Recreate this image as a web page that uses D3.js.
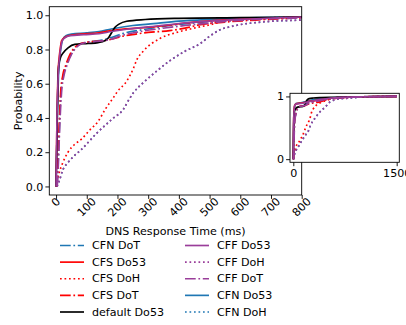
<!DOCTYPE html>
<html>
<head>
<meta charset="utf-8">
<script src="https://cdn.jsdelivr.net/npm/d3@7"></script>
<style>
  body { margin: 0; background: #fff; }
  text { font-family: "DejaVu Sans", sans-serif; fill: #000; }
</style>
</head>
<body>
<svg id="chart" width="406" height="325"></svg>
<script>
// CDF points: [response time (ms), probability]
const cfnDoT = [[3,0],[7,0.15],[11,0.35],[16,0.55],[24,0.65],[34,0.71],[48,0.77],[62,0.81],[82,0.835],[110,0.845],[150,0.855],[180,0.87],[220,0.895],[280,0.915],[350,0.935],[450,0.955],[550,0.97],[650,0.98],[800,0.99],[1000,0.995],[1500,1]];
const cfsDo53 = [[0,0],[3,0.4],[6,0.65],[10,0.75],[14,0.81],[18,0.85],[28,0.87],[40,0.88],[80,0.89],[140,0.898],[170,0.907],[200,0.915],[300,0.93],[360,0.94],[420,0.955],[470,0.963],[550,0.973],[650,0.98],[800,0.99],[1000,0.995],[1500,1]];
const cfsDoH = [[0,0],[5,0.04],[12,0.09],[20,0.13],[39,0.2],[60,0.245],[82,0.275],[110,0.33],[137,0.38],[160,0.45],[187,0.52],[200,0.555],[230,0.615],[252,0.69],[263,0.74],[284,0.79],[339,0.865],[393,0.9],[447,0.924],[502,0.945],[540,0.962],[577,0.975],[690,0.985],[800,0.99],[1000,0.995],[1500,1]];
const cfsDoT = [[3,0],[6,0.15],[10,0.35],[15,0.55],[22,0.65],[32,0.71],[45,0.77],[60,0.81],[80,0.835],[110,0.845],[150,0.85],[180,0.86],[210,0.875],[260,0.89],[300,0.9],[370,0.91],[420,0.925],[470,0.945],[550,0.96],[650,0.972],[800,0.985],[1000,0.993],[1500,1]];
const defaultDo53 = [[0,0],[3,0.3],[6,0.6],[9,0.71],[16,0.76],[23,0.78],[39,0.81],[61,0.83],[104,0.835],[137,0.84],[160,0.852],[172,0.872],[183,0.905],[192,0.93],[205,0.948],[230,0.965],[290,0.975],[400,0.982],[600,0.986],[800,0.99],[1000,0.995],[1500,1]];
const cffDo53 = [[0,0],[3,0.4],[7,0.65],[11,0.75],[15,0.81],[20,0.85],[30,0.87],[45,0.88],[90,0.887],[140,0.892],[180,0.905],[230,0.918],[300,0.932],[400,0.952],[500,0.966],[600,0.976],[800,0.99],[1000,0.995],[1500,1]];
const cffDoH = [[3,0],[10,0.03],[23,0.1],[39,0.14],[60,0.18],[82,0.215],[132,0.31],[187,0.4],[219,0.45],[235,0.5],[252,0.547],[284,0.606],[328,0.674],[371,0.735],[420,0.79],[469,0.834],[502,0.88],[534,0.915],[577,0.937],[687,0.963],[800,0.972],[1000,0.99],[1500,1]];
const cffDoT = [[4,0],[8,0.15],[12,0.35],[18,0.55],[26,0.65],[36,0.71],[50,0.77],[65,0.81],[85,0.835],[110,0.843],[150,0.85],[180,0.86],[210,0.88],[260,0.9],[330,0.92],[420,0.94],[500,0.955],[600,0.97],[800,0.985],[1000,0.993],[1500,1]];
const cfnDo53 = [[0,0],[4,0.4],[8,0.65],[12,0.75],[17,0.82],[22,0.86],[32,0.88],[50,0.89],[100,0.897],[140,0.905],[180,0.92],[250,0.94],[300,0.948],[400,0.966],[500,0.976],[600,0.983],[800,0.99],[1000,0.995],[1500,1]];
const cfnDoH = [[3,0],[10,0.03],[23,0.1],[39,0.14],[60,0.18],[82,0.215],[132,0.31],[187,0.4],[219,0.45],[235,0.5],[252,0.547],[284,0.606],[328,0.674],[371,0.735],[420,0.79],[469,0.834],[502,0.88],[534,0.915],[577,0.937],[687,0.963],[800,0.972],[1000,0.99],[1500,1]];

const legendLabels = ['CFN DoT','CFS Do53','CFS DoH','CFS DoT','default Do53','CFF Do53','CFF DoH','CFF DoT','CFN Do53','CFN DoH'];
const xTicks = [0,100,200,300,400,500,600,700,800];
const yTicks = [0,0.2,0.4,0.6,0.8,1.0];
const insetXTicks = [0,1500];
const insetYTicks = [0,1];

const colors = { CFN: '#1f77b4', CFS: '#ff0000', CFF: '#9a3e9a', default: '#000000' };
const dashes = { Do53: null, DoH: '1.7,2.8', DoT: '10.7,2.7,1.7,2.7' };

const seriesData = [cfnDoT, cfsDo53, cfsDoH, cfsDoT, defaultDo53, cffDo53, cffDoH, cffDoT, cfnDo53, cfnDoH];
const series = legendLabels.map((name, i) => {
  const [prov, proto] = name.split(' ');
  return { name, color: colors[prov], dash: dashes[proto], values: seriesData[i] };
});
// CFN lines drawn first: they sit under the others in the picture
const drawOrder = [9, 0, 8, 1, 2, 3, 4, 5, 6, 7];

const svg = d3.select('#chart');
const fs = 11.1;

const main = { left: 49.3, right: 301.7, top: 6.7, bottom: 195 };
const x = d3.scaleLinear().domain([-22, 800]).range([main.left, main.right]);
const y = d3.scaleLinear().domain([-0.05, 1.05]).range([main.bottom, main.top]);

svg.append('clipPath').attr('id', 'clipMain')
  .append('rect').attr('x', main.left).attr('y', main.top)
  .attr('width', main.right - main.left).attr('height', main.bottom - main.top);

function drawLines(g, xs, ys, lw) {
  const line = d3.line().x(d => xs(d[0])).y(d => ys(d[1])).curve(d3.curveMonotoneX);
  drawOrder.forEach(i => {
    const s = series[i];
    g.append('path')
      .attr('d', line(s.values))
      .attr('fill', 'none')
      .attr('stroke', s.color)
      .attr('stroke-width', lw)
      .attr('stroke-dasharray', s.dash)
      .attr('stroke-linejoin', 'round');
  });
}

drawLines(svg.append('g').attr('clip-path', 'url(#clipMain)'), x, y, 1.67);

// main axes
const xAxis = svg.append('g').attr('transform', `translate(0,${main.bottom})`)
  .call(d3.axisBottom(x).tickValues(xTicks).tickSize(3.9).tickFormat(''));
xAxis.select('.domain').remove();
xAxis.selectAll('line').attr('stroke', '#000').attr('stroke-width', 0.9);

xTicks.forEach(t => {
  const label = String(t);
  const w = label.length * 6.4 * fs / 10 + 1;
  const half = (w + 8) * Math.SQRT1_2 / 2;
  svg.append('text')
    .attr('transform', `translate(${x(t)},${main.bottom + 1.5 + half}) rotate(-45)`)
    .attr('text-anchor', 'middle')
    .attr('dominant-baseline', 'central')
    .attr('font-size', fs)
    .text(label);
});

const yAxis = svg.append('g').attr('transform', `translate(${main.left},0)`)
  .call(d3.axisLeft(y).tickValues(yTicks).tickSize(3.9).tickPadding(2).tickFormat(d3.format('.1f')));
yAxis.select('.domain').remove();
yAxis.selectAll('line').attr('stroke', '#000').attr('stroke-width', 0.9);
yAxis.selectAll('text').attr('font-size', fs).attr('font-family', 'DejaVu Sans').attr('fill', '#000');

svg.append('rect')
  .attr('x', main.left).attr('y', main.top)
  .attr('width', main.right - main.left).attr('height', main.bottom - main.top)
  .attr('fill', 'none').attr('stroke', '#000').attr('stroke-width', 0.9);

svg.append('text')
  .attr('transform', `translate(18.3,${(main.top + main.bottom) / 2}) rotate(-90)`)
  .attr('text-anchor', 'middle').attr('dominant-baseline', 'central')
  .attr('font-size', fs).text('Probability');

svg.append('text')
  .attr('x', (main.left + main.right) / 2).attr('y', 231)
  .attr('text-anchor', 'middle').attr('dominant-baseline', 'central')
  .attr('font-size', fs).text('DNS Response Time (ms)');

// inset
const ins = { left: 290, right: 399.3, top: 93.3, bottom: 162.3 };
const xi = d3.scaleLinear().domain([-48, 1538]).range([ins.left, ins.right]);
const yi = d3.scaleLinear().domain([-0.05, 1.05]).range([ins.bottom, ins.top]);

svg.append('rect')
  .attr('x', ins.left).attr('y', ins.top)
  .attr('width', ins.right - ins.left).attr('height', ins.bottom - ins.top)
  .attr('fill', '#fff');

svg.append('clipPath').attr('id', 'clipInset')
  .append('rect').attr('x', ins.left).attr('y', ins.top)
  .attr('width', ins.right - ins.left).attr('height', ins.bottom - ins.top);

drawLines(svg.append('g').attr('clip-path', 'url(#clipInset)'), xi, yi, 1.67);

const xiAxis = svg.append('g').attr('transform', `translate(0,${ins.bottom})`)
  .call(d3.axisBottom(xi).tickValues(insetXTicks).tickSize(3.9).tickPadding(2.5).tickFormat(d3.format('d')));
xiAxis.select('.domain').remove();
xiAxis.selectAll('line').attr('stroke', '#000').attr('stroke-width', 0.9);
xiAxis.selectAll('text').attr('font-size', fs).attr('font-family', 'DejaVu Sans').attr('fill', '#000');

const yiAxis = svg.append('g').attr('transform', `translate(${ins.left},0)`)
  .call(d3.axisLeft(yi).tickValues(insetYTicks).tickSize(3.9).tickPadding(2).tickFormat(d3.format('d')));
yiAxis.select('.domain').remove();
yiAxis.selectAll('line').attr('stroke', '#000').attr('stroke-width', 0.9);
yiAxis.selectAll('text').attr('font-size', fs).attr('font-family', 'DejaVu Sans').attr('fill', '#000');

svg.append('rect')
  .attr('x', ins.left).attr('y', ins.top)
  .attr('width', ins.right - ins.left).attr('height', ins.bottom - ins.top)
  .attr('fill', 'none').attr('stroke', '#000').attr('stroke-width', 0.9);

// legend, two columns of five
const legend = svg.append('g');
const rowY = d3.scalePoint().domain(d3.range(5)).range([245.5, 312]);
const colX = [60, 185];
series.forEach((s, i) => {
  const col = Math.floor(i / 5), row = i % 5;
  const g = legend.append('g').attr('transform', `translate(${colX[col]},${rowY(row)})`);
  g.append('line')
    .attr('x1', 0).attr('x2', 24).attr('y1', 0).attr('y2', 0)
    .attr('stroke', s.color).attr('stroke-width', 1.67)
    .attr('stroke-dasharray', s.dash);
  g.append('text')
    .attr('x', 32).attr('y', 0)
    .attr('dominant-baseline', 'central')
    .attr('font-size', fs).text(s.name);
});
</script>
</body>
</html>
